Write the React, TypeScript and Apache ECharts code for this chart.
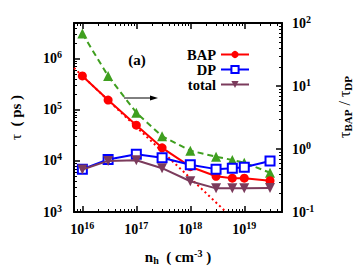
import React, { useEffect, useRef } from "react";
import * as echarts from "echarts";

const density = [1e16, 3e16, 1e17, 3e17, 1e18, 3e18, 6e18, 1e19, 3e19];
const tauBAP = [4.6e5, 1.55e5, 5.0e4, 1.8e4, 7.7e3, 5.0e3, 4.6e3, 4.6e3, 4.1e3];
const tauDP = [6.9e3, 1.07e4, 1.35e4, 1.15e4, 8.4e3, 6.9e3, 7.2e3, 7.5e3, 1.0e4];
const tauTotal = [6.8e3, 1.0e4, 1.03e4, 7.2e3, 4.0e3, 2.9e3, 2.9e3, 2.9e3, 2.95e3];
const ratio = [68, 14.4, 3.77, 1.6, 0.94, 0.755, 0.67, 0.606, 0.42];
const fitDensity = [7e15, 4.6e18];
const fitTau = [6.6e5, 1000];

const xMajor = [1e16, 1e17, 1e18, 1e19];
const yLeftMajor = [1e3, 1e4, 1e5, 1e6];
const yRightMajor = [0.1, 1, 10, 100];

const FONT = "Liberation Serif";

function minorTicks(minV: number, maxV: number): number[] {
  const out: number[] = [];
  for (let e = -2; e <= 20; e++) {
    for (let k = 2; k <= 9; k++) {
      const v = k * Math.pow(10, e);
      if (v > minV * 1.0001 && v < maxV * 0.9999) out.push(v);
    }
  }
  return out;
}

const pow10Label = (v: number) => {
  const e = Math.round(Math.log10(v));
  return `{b|10}{s|${e}}`;
};

const labelRich = {
  b: { fontFamily: FONT, fontWeight: "bold", fontSize: 14, color: "#000" },
  s: { fontFamily: FONT, fontWeight: "bold", fontSize: 10, color: "#000", padding: [0, 0, 8, 0] },
};

export default function App() {
  const ref = useRef<HTMLDivElement>(null);
  useEffect(() => {
    if (!ref.current) return;
    const chart = echarts.init(ref.current, undefined, { renderer: "svg" });
    const xMin = 7e15, xMax = 5e19;
    const yMin = 1e3, yMax = 5e6;
    const rMin = 0.1, rMax = 100;
    const lineAx = { show: true, onZero: false, lineStyle: { color: "#000", width: 2 } };
    const noLine = { show: false, onZero: false };
    const majorTick = (vals: number[]) => ({ show: true, inside: true, length: 6, customValues: vals, lineStyle: { color: "#000", width: 1.5 } });
    const minorTick = (vals: number[]) => ({ show: true, inside: true, length: 3, customValues: vals, lineStyle: { color: "#000", width: 1 } });
    const base = { type: "log", logBase: 10, splitLine: { show: false } };

    const option: any = {
      animation: false,
      grid: { left: 72, top: 23, right: 75, bottom: 61 },
      legend: {
        data: ["BAP", "DP", "total"],
        orient: "vertical",
        right: 107,
        top: 47,
        align: "right",
        itemWidth: 28,
        itemHeight: 9,
        itemGap: 0,
        padding: 0,
        textStyle: { fontFamily: FONT, fontWeight: "bold", fontSize: 14.5, color: "#000" },
      },
      xAxis: [
        {
          ...base, position: "bottom", min: xMin, max: xMax,
          axisLine: lineAx, axisTick: majorTick(xMajor),
          axisLabel: { customValues: xMajor, formatter: pow10Label, rich: labelRich, margin: 8 },
          name: "{b|n}{sub|h}{b|  ( cm}{sup|-3}{b| )}",
          nameLocation: "middle",
          nameGap: 36,
          nameTextStyle: {
            rich: {
              b: { fontFamily: FONT, fontWeight: "bold", fontSize: 15, color: "#000" },
              sub: { fontFamily: FONT, fontWeight: "bold", fontSize: 10, color: "#000", padding: [6, 0, 0, 0] },
              sup: { fontFamily: FONT, fontWeight: "bold", fontSize: 10, color: "#000", padding: [0, 0, 8, 0] },
            },
          },
        },
        {
          ...base, position: "top", min: xMin, max: xMax,
          axisLine: lineAx, axisTick: majorTick(xMajor), axisLabel: { show: false },
        },
        {
          ...base, position: "bottom", min: xMin, max: xMax,
          axisLine: noLine, axisTick: minorTick(minorTicks(xMin, xMax)), axisLabel: { show: false },
        },
        {
          ...base, position: "top", min: xMin, max: xMax,
          axisLine: noLine, axisTick: minorTick(minorTicks(xMin, xMax)), axisLabel: { show: false },
        },
      ],
      yAxis: [
        {
          ...base, position: "left", min: yMin, max: yMax,
          axisLine: lineAx, axisTick: majorTick(yLeftMajor),
          axisLabel: { customValues: yLeftMajor, formatter: pow10Label, rich: labelRich, margin: 12 },
          name: "{t|τ}{b|  ( ps )}",
          nameLocation: "middle",
          nameRotate: 90,
          nameGap: 51,
          nameTextStyle: {
            rich: {
              t: { fontFamily: FONT, fontSize: 15, color: "#000" },
              b: { fontFamily: FONT, fontWeight: "bold", fontSize: 15, color: "#000" },
            },
          },
        },
        {
          ...base, position: "right", min: rMin, max: rMax,
          axisLine: lineAx, axisTick: majorTick(yRightMajor),
          axisLabel: { customValues: yRightMajor, formatter: pow10Label, rich: labelRich, margin: 10 },
        },
        {
          ...base, position: "left", min: yMin, max: yMax,
          axisLine: noLine, axisTick: minorTick(minorTicks(yMin, yMax)), axisLabel: { show: false },
        },
        {
          ...base, position: "right", min: rMin, max: rMax,
          axisLine: noLine, axisTick: minorTick(minorTicks(rMin, rMax)), axisLabel: { show: false },
        },
      ],
      graphic: [
        {
          type: "text", x: 137, y: 60,
          style: {
            text: "(a)", fontFamily: FONT, fontWeight: "bold", fontSize: 15,
            fill: "#000", align: "center", verticalAlign: "middle",
          },
        },
        { type: "line", shape: { x1: 124, y1: 98, x2: 151, y2: 98 }, style: { stroke: "#000", lineWidth: 1 } },
        { type: "polygon", shape: { points: [[158, 98], [150, 95.5], [150, 100.5]] }, style: { fill: "#000" } },
        {
          type: "text", x: 344, y: 107, rotation: Math.PI / 2,
          style: {
            text: "{t|τ}{s|BAP}{t| / τ}{s|DP}",
            align: "center", verticalAlign: "middle",
            rich: {
              t: { fontFamily: FONT, fontSize: 16, fill: "#000" },
              s: { fontFamily: FONT, fontWeight: "bold", fontSize: 11, fill: "#000", padding: [7, 0, 0, 0] },
            },
          },
        },
      ],
      series: [
        {
          name: "fit", type: "line", xAxisIndex: 0, yAxisIndex: 0,
          data: fitDensity.map((x, i) => [x, fitTau[i]]),
          symbol: "none", lineStyle: { color: "#ff0000", width: 2, type: [2, 3] }, z: 1,
        },
        {
          name: "ratio", type: "line", xAxisIndex: 0, yAxisIndex: 1,
          data: density.map((x, i) => [x, ratio[i]]),
          symbol: "triangle", symbolSize: 10,
          itemStyle: { color: "#3f9f1f" },
          lineStyle: { color: "#3f9f1f", width: 2, type: [6, 4] }, z: 2,
        },
        {
          name: "BAP", type: "line", xAxisIndex: 0, yAxisIndex: 0,
          data: density.map((x, i) => [x, tauBAP[i]]),
          symbol: "circle", symbolSize: 9,
          itemStyle: { color: "#ff0000" },
          lineStyle: { color: "#ff0000", width: 2 }, z: 3,
        },
        {
          name: "DP", type: "line", xAxisIndex: 0, yAxisIndex: 0,
          data: density.map((x, i) => [x, tauDP[i]]),
          symbol: "rect", symbolSize: 9,
          itemStyle: { color: "#fff", borderColor: "#0000ff", borderWidth: 2 },
          lineStyle: { color: "#0000ff", width: 2 }, z: 3,
        },
        {
          name: "total", type: "line", xAxisIndex: 0, yAxisIndex: 0,
          data: density.map((x, i) => [x, tauTotal[i]]),
          symbol: "triangle", symbolRotate: 180, symbolSize: 10,
          itemStyle: { color: "#7b3b5c" },
          lineStyle: { color: "#7b3b5c", width: 2 }, z: 4,
        },
      ],
    };
    chart.setOption(option);
    return () => chart.dispose();
  }, []);
  return (
    <div
      ref={ref}
      style={{ position: "fixed", left: 0, top: 0, width: 357, height: 273, background: "#fff" }}
    />
  );
}
